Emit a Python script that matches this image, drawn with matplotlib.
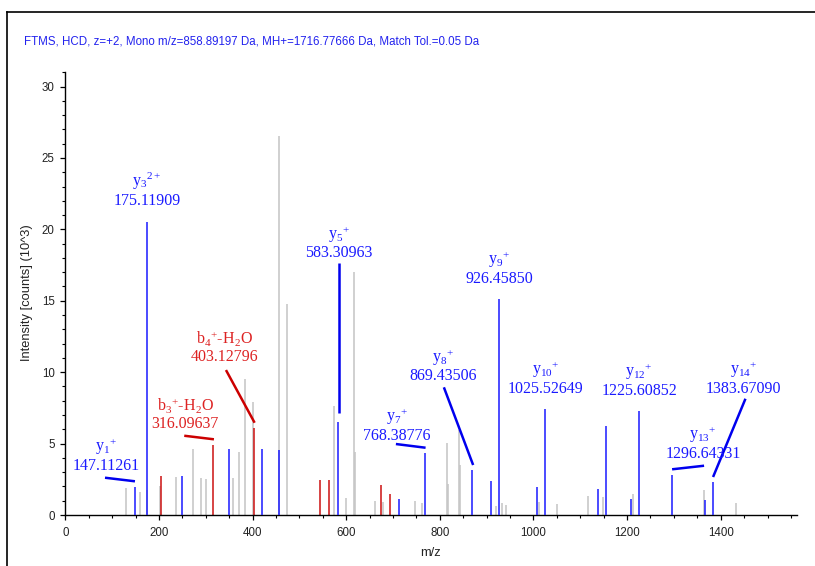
import matplotlib
matplotlib.use("Agg")
import matplotlib.pyplot as plt
from matplotlib.lines import Line2D
from matplotlib.ticker import MultipleLocator

plt.rcParams["mathtext.fontset"] = "custom"
plt.rcParams["mathtext.rm"] = "Liberation Serif"
plt.rcParams["mathtext.it"] = "Liberation Serif:italic"

# ---------------- data ----------------
title = "FTMS, HCD, z=+2, Mono m/z=858.89197 Da, MH+=1716.77666 Da, Match Tol.=0.05 Da"

gray_mz = [130, 159.5, 175, 202, 235.7, 272, 289, 300.5, 359, 371, 384, 402,
           455.7, 472.7, 573.8, 599.5, 617, 619, 662, 678, 746, 763, 814.4,
           817, 840.7, 844, 920, 933, 941, 1011.5, 1051, 1115.5, 1149, 1213.6,
           1364.5, 1432.8]
gray_int = [1.91, 1.59, 1.75, 2.03, 2.65, 4.62, 2.56, 2.5, 2.56, 4.43, 9.5, 7.89,
            26.56, 14.77, 7.6, 1.17, 17.0, 4.4, 0.98, 0.93, 1.0, 0.86, 5.04,
            2.2, 5.95, 3.5, 0.65, 0.86, 0.7, 0.91, 0.75, 1.35, 1.24, 1.47,
            1.75, 0.86]

blue_mz = [148, 175.1, 249, 350, 420.7, 455.6, 583.3, 712, 768.4, 869.4, 909,
           926.5, 1008.5, 1025.5, 1137, 1154.6, 1208, 1225.6, 1296.6, 1366, 1383.7]
blue_int = [1.98, 20.54, 2.75, 4.65, 4.65, 4.55, 6.49, 1.12, 4.34, 3.15, 2.36,
            15.13, 1.93, 7.42, 1.82, 6.23, 1.1, 7.26, 2.82, 1.05, 2.33]

red_mz = [204.4, 316.1, 403.1, 545, 563.8, 675, 692.7]
red_int = [2.75, 4.9, 6.1, 2.47, 2.47, 2.07, 1.47]

# annotations: ion name, m/z text, colour, label centre (m/z, intensity of ion line)
ann_ion = [r"$\mathrm{y_{1}{}^{+}}$", r"$\mathrm{y_{3}{}^{2+}}$",
           r"$\mathrm{b_{3}{}^{+}}$-H$_{2}$O", r"$\mathrm{b_{4}{}^{+}}$-H$_{2}$O",
           r"$\mathrm{y_{5}{}^{+}}$", r"$\mathrm{y_{7}{}^{+}}$",
           r"$\mathrm{y_{8}{}^{+}}$", r"$\mathrm{y_{9}{}^{+}}$",
           r"$\mathrm{y_{10}{}^{+}}$", r"$\mathrm{y_{12}{}^{+}}$",
           r"$\mathrm{y_{13}{}^{+}}$", r"$\mathrm{y_{14}{}^{+}}$"]
ann_value = ["147.11261", "175.11909", "316.09637", "403.12796", "583.30963",
             "768.38776", "869.43506", "926.45850", "1025.52649", "1225.60852",
             "1296.64331", "1383.67090"]
ann_red = [False, False, True, True, False, False, False, False, False, False,
           False, False]
ann_x = [86.9, 174.5, 255.6, 339.5, 583.8, 707.7, 807.2, 926.7, 1025.8, 1225.7,
         1362.4, 1449.3]
ann_y = [4.78, 23.34, 7.70, 12.37, 19.66, 6.88, 11.04, 17.86, 10.15, 10.01,
         5.60, 10.15]
# connector lines (start near label -> end at peak top); None = no connector
conn_start = [(84.8, 2.61), None, (254.1, 5.55), (343.2, 10.15), (583.8, 17.65),
              (706.2, 4.97), (808.7, 8.94), None, None, None, (1296.2, 3.20),
              (1452.9, 8.14)]
conn_end = [(148.8, 2.36), None, (317.5, 5.30), (404.4, 6.46), (583.8, 7.14),
            (769.6, 4.71), (871.2, 3.50), None, None, None, (1364.5, 3.45),
            (1383.7, 2.66)]

BLUE = "#1a1aff"
RED = "#cc1111"
GRAY = "#c4c4c4"

# ---------------- figure ----------------
W, H = 815, 566
fig = plt.figure(figsize=(W / 100, H / 100), dpi=100)
ax = fig.add_axes([65.3 / W, (H - 515) / H, (797 - 65.3) / W, (515 - 71.7) / H])

ax.vlines(gray_mz, 0, gray_int, color=GRAY, lw=1.1, zorder=1)
ax.vlines(red_mz, 0, red_int, color=RED, lw=1.1, zorder=2)
ax.vlines(blue_mz, 0, blue_int, color=BLUE, lw=1.1, zorder=3)

line_gap = 1.32
for ion, val, isred, x, y, cs, ce in zip(ann_ion, ann_value, ann_red, ann_x,
                                          ann_y, conn_start, conn_end):
    c = "#dd2222" if isred else BLUE
    ax.text(x, y, ion, color=c, ha="center", va="center", fontsize=11.5,
            family="Liberation Serif", zorder=5)
    ax.text(x, y - line_gap, val, color=c, ha="center", va="center",
            fontsize=11.5, family="Liberation Serif", zorder=5)
    if cs is not None:
        ax.plot([cs[0], ce[0]], [cs[1], ce[1]], color=("#cc0000" if isred else "#0000ee"),
                lw=1.8, solid_capstyle="butt", zorder=4)

ax.set_xlim(0, 1563)
ax.set_ylim(0, 31.04)
ax.spines["top"].set_visible(False)
ax.spines["right"].set_visible(False)
for s in ("left", "bottom"):
    ax.spines[s].set_linewidth(1.0)
ax.xaxis.set_major_locator(MultipleLocator(200))
ax.xaxis.set_minor_locator(MultipleLocator(50))
ax.yaxis.set_major_locator(MultipleLocator(5))
ax.yaxis.set_minor_locator(MultipleLocator(1))
ax.tick_params(which="major", direction="out", length=3.6, width=0.9,
               labelsize=8.3, labelcolor="#222222")
ax.tick_params(which="minor", direction="out", length=2.2, width=0.8)
ax.tick_params(axis="x", which="major", pad=5)
ax.tick_params(axis="y", which="major", pad=4)
for lab in ax.get_xticklabels() + ax.get_yticklabels():
    lab.set_family("Liberation Sans")

fig.text(430 / W, 1 - 553 / H, "m/z", ha="center", va="center", fontsize=9.3,
         family="Liberation Sans", color="#222222")
fig.text(27 / W, 1 - 293 / H, "Intensity [counts] (10^3)", ha="center",
         va="center", rotation=90, fontsize=9.3, family="Liberation Sans",
         color="#222222")
fig.text(24 / W, 1 - 41 / H, title, ha="left", va="center", fontsize=8.3,
         family="Liberation Sans", color="#2222ee")

# frame lines of the original window
fig.add_artist(Line2D([7 / W, 7 / W], [0, 1 - 11.7 / H], color="black", lw=1.2,
                      transform=fig.transFigure))
fig.add_artist(Line2D([7 / W, 1], [1 - 11.7 / H, 1 - 11.7 / H], color="black",
                      lw=1.2, transform=fig.transFigure))

fig.savefig("out.png", dpi=100)
